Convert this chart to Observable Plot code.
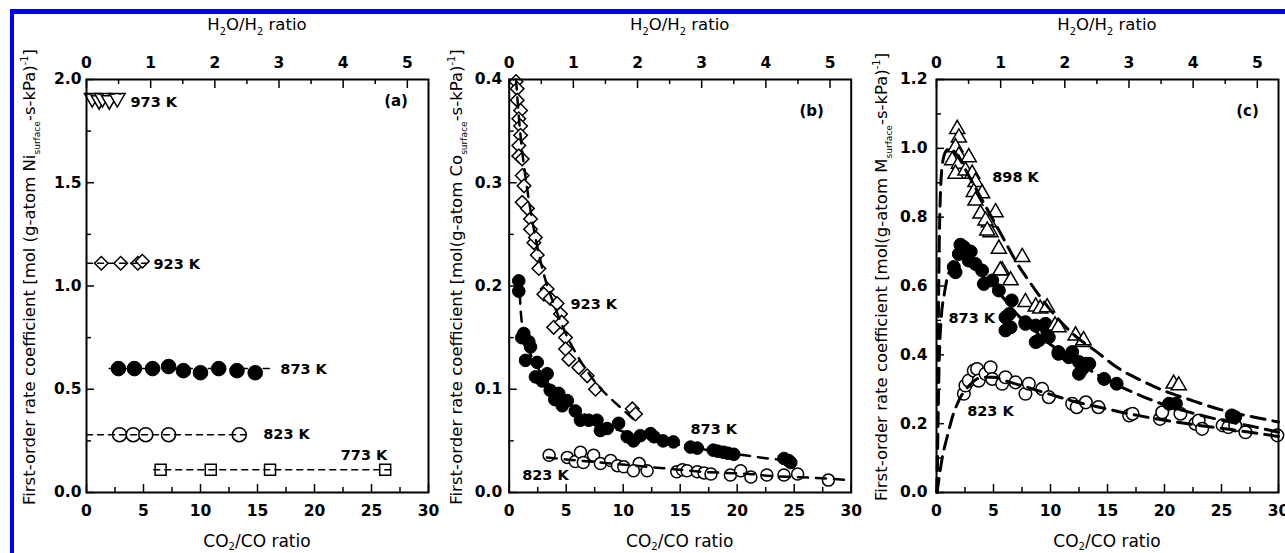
<!DOCTYPE html>
<html><head><meta charset="utf-8">
<script src="https://cdn.jsdelivr.net/npm/d3@7"></script>
<script src="https://cdn.jsdelivr.net/npm/@observablehq/plot@0.6"></script>
<style>
html,body{margin:0;padding:0;background:#fff}
body{width:1285px;height:553px;overflow:hidden;position:relative;font-family:"DejaVu Sans",sans-serif}
.panel{position:absolute;top:0}
#border{position:absolute;left:10px;top:9px;width:1400px;height:700px;border-left:4px solid #0000ff;border-top:5px solid #0000ff;pointer-events:none}
</style></head><body>
<div id="pa" class="panel" style="left:0px"></div>
<div id="pb" class="panel" style="left:430px"></div>
<div id="pc" class="panel" style="left:860px"></div>
<div id="border"></div>
<script>
// ---------- shared axis data ----------
const co2Major = [0, 5, 10, 15, 20, 25, 30];
const co2Minor = [2.5, 7.5, 12.5, 17.5, 22.5, 27.5];
const h2oMajor = [0, 1, 2, 3, 4, 5];
const h2oMinor = [0.5, 1.5, 2.5, 3.5, 4.5];
const h2oPerCo2 = 5.33 / 30; // top axis (H2O/H2) vs bottom axis (CO2/CO)

// ---------- panel (a) Ni ----------
const aYMajor = [0, 0.5, 1.0, 1.5, 2.0];
const aYMinor = [0.25, 0.75, 1.25, 1.75];
const a973x = [0.5, 1.1, 1.4, 2.0, 2.7];
const a973y = [1.91, 1.90, 1.91, 1.90, 1.91];
const a923x = [1.3, 3.0, 4.5, 4.9];
const a923y = [1.11, 1.11, 1.11, 1.12];
const a873x = [2.8, 4.2, 5.8, 7.2, 8.5, 10.0, 11.6, 13.2, 14.8];
const a873y = [0.60, 0.60, 0.60, 0.61, 0.59, 0.58, 0.60, 0.59, 0.58];
const a823x = [2.9, 4.1, 5.2, 7.2, 13.4];
const a823y = [0.28, 0.28, 0.28, 0.28, 0.28];
const a773x = [6.5, 10.9, 16.1, 26.2];
const a773y = [0.11, 0.11, 0.11, 0.11];
const a973FitX = [0, 3.0], a973FitY = [1.93, 1.93];
const a923FitX = [0, 5.5], a923FitY = [1.11, 1.11];
const a873FitX = [2.0, 16.3], a873FitY = [0.60, 0.60];
const a823FitX = [0, 14.2], a823FitY = [0.28, 0.28];
const a773FitX = [5.9, 26.7], a773FitY = [0.11, 0.11];
const aLabelText = ["973 K", "923 K", "873 K", "823 K", "773 K"];
const aLabelX = [3.86, 5.88, 17.0, 15.5, 22.3];
const aLabelY = [1.889, 1.104, 0.596, 0.281, 0.179];

// ---------- panel (b) Co ----------
const bYMajor = [0, 0.1, 0.2, 0.3, 0.4];
const bYMinor = [0.05, 0.15, 0.25, 0.35];
const b923x = [0.6, 0.70, 0.70, 1.0, 0.84, 1.0, 1.0, 0.84, 0.84, 1.14, 1.14, 1.3, 1.14, 1.6, 1.87, 1.87, 2.16, 2.3, 2.46, 2.6, 3.33, 3.04, 3.6, 4.2, 4.5, 3.9, 4.6, 4.94, 4.94, 5.23, 6.1, 6.84, 7.57, 10.8, 11.08];
const b923y = [0.398, 0.391, 0.380, 0.370, 0.362, 0.355, 0.346, 0.336, 0.326, 0.323, 0.307, 0.297, 0.281, 0.275, 0.265, 0.255, 0.242, 0.247, 0.230, 0.217, 0.197, 0.192, 0.188, 0.183, 0.173, 0.160, 0.165, 0.150, 0.139, 0.129, 0.121, 0.113, 0.100, 0.081, 0.076];
const b873x = [0.84, 0.84, 1.1, 1.28, 1.72, 1.87, 1.43, 2.46, 2.3, 2.9, 3.33, 3.6, 4.0, 4.35, 4.65, 5.1, 5.8, 6.25, 6.98, 7.7, 8.0, 8.6, 9.6, 10.35, 10.9, 11.5, 12.4, 12.7, 13.5, 14.4, 15.9, 16.5, 17.9, 18.3, 18.8, 19.2, 19.7, 24.1, 24.5, 24.7];
const b873y = [0.205, 0.195, 0.150, 0.154, 0.146, 0.141, 0.128, 0.126, 0.112, 0.108, 0.115, 0.099, 0.090, 0.096, 0.084, 0.089, 0.079, 0.070, 0.070, 0.070, 0.060, 0.062, 0.067, 0.054, 0.050, 0.055, 0.057, 0.054, 0.050, 0.049, 0.044, 0.043, 0.041, 0.040, 0.039, 0.038, 0.037, 0.033, 0.031, 0.029];
const b823x = [3.5, 5.1, 5.8, 6.25, 7.4, 6.5, 8.0, 8.9, 9.5, 10.05, 11.4, 10.9, 12.1, 14.7, 15.2, 15.6, 16.5, 17.1, 17.7, 19.4, 20.3, 21.2, 22.6, 24.1, 25.3, 28.0];
const b823y = [0.036, 0.034, 0.030, 0.039, 0.036, 0.029, 0.028, 0.031, 0.026, 0.025, 0.028, 0.021, 0.021, 0.020, 0.022, 0.021, 0.020, 0.019, 0.018, 0.017, 0.021, 0.015, 0.017, 0.017, 0.018, 0.012];
const b923FitX = [0.6, 0.8, 1.0, 1.5, 2, 3, 4, 5, 6, 7, 8, 9, 10, 11];
const b923FitY = [0.40, 0.37, 0.345, 0.30, 0.265, 0.213, 0.180, 0.153, 0.132, 0.115, 0.101, 0.090, 0.080, 0.070];
const b873FitX = [0.85, 1.0, 1.3, 1.7, 2.2, 3, 4, 5, 6, 7, 8, 10, 12, 14, 16, 18, 20, 22, 25];
const b873FitY = [0.21, 0.178, 0.152, 0.138, 0.127, 0.112, 0.098, 0.088, 0.080, 0.073, 0.067, 0.059, 0.053, 0.048, 0.044, 0.040, 0.037, 0.034, 0.030];
const b823FitX = [3.3, 5, 7, 9, 11, 13, 15, 17, 19, 21, 23, 25, 27, 30];
const b823FitY = [0.034, 0.032, 0.030, 0.028, 0.026, 0.024, 0.022, 0.020, 0.019, 0.018, 0.016, 0.015, 0.014, 0.012];
const bLabelText = ["923 K", "873 K", "823 K"];
const bLabelX = [5.38, 15.9, 1.14];
const bLabelY = [0.182, 0.061, 0.0165];

// ---------- panel (c) M ----------
const cYMajor = [0, 0.2, 0.4, 0.6, 0.8, 1.0, 1.2];
const cYMinor = [0.1, 0.3, 0.5, 0.7, 0.9, 1.1];
const c898x = [1.82, 1.96, 1.67, 1.96, 1.38, 2.83, 1.96, 1.67, 2.54, 3.13, 3.42, 3.27, 4.0, 3.42, 3.86, 5.18, 4.59, 4.74, 5.47, 7.52, 5.76, 4.3, 4.45, 5.6, 6.5, 7.8, 8.7, 9.1, 9.7, 10.4, 10.7, 12.2, 12.8, 12.9, 20.8, 21.25];
const c898y = [1.056, 1.031, 1.003, 0.979, 0.965, 0.974, 0.955, 0.926, 0.935, 0.926, 0.902, 0.873, 0.869, 0.848, 0.810, 0.814, 0.785, 0.756, 0.708, 0.684, 0.645, 0.790, 0.761, 0.645, 0.616, 0.553, 0.540, 0.534, 0.538, 0.485, 0.480, 0.456, 0.437, 0.442, 0.316, 0.311];
const c873x = [2.4, 1.96, 1.52, 1.67, 2.1, 3.0, 2.83, 3.42, 4.0, 4.15, 4.89, 5.47, 6.05, 6.5, 7.8, 8.7, 9.56, 9.85, 10.7, 11.9, 12.5, 13.4, 6.6, 6.4, 7.8, 6.05, 8.7, 8.97, 9.7, 10.7, 11.6, 12.8, 13.1, 12.5, 14.7, 15.8, 20.4, 21.0, 25.9, 26.2];
const c873y = [0.713, 0.693, 0.655, 0.640, 0.72, 0.70, 0.674, 0.664, 0.645, 0.606, 0.616, 0.587, 0.509, 0.480, 0.490, 0.437, 0.490, 0.451, 0.408, 0.408, 0.379, 0.374, 0.558, 0.519, 0.495, 0.471, 0.485, 0.442, 0.471, 0.403, 0.393, 0.359, 0.374, 0.345, 0.330, 0.316, 0.258, 0.258, 0.224, 0.219];
const c823x = [2.4, 2.54, 2.83, 3.27, 3.56, 3.7, 4.3, 4.74, 4.89, 5.76, 6.05, 6.93, 7.8, 8.1, 9.27, 9.85, 11.9, 12.3, 13.1, 14.2, 16.9, 17.2, 19.6, 19.8, 21.4, 22.7, 23.0, 23.3, 25.1, 25.6, 26.2, 27.1, 29.9];
const c823y = [0.287, 0.311, 0.325, 0.354, 0.359, 0.325, 0.345, 0.364, 0.330, 0.316, 0.335, 0.320, 0.287, 0.316, 0.301, 0.277, 0.258, 0.248, 0.262, 0.248, 0.224, 0.229, 0.214, 0.233, 0.229, 0.200, 0.209, 0.185, 0.195, 0.190, 0.195, 0.175, 0.166];
const c898FitX = [0.05, 0.15, 0.3, 0.5, 0.8, 1.2, 1.8, 3, 4, 5, 6, 7, 8, 10, 12, 14, 16, 18, 20, 22, 25, 28, 30];
const c898FitY = [0, 0.45, 0.82, 0.95, 0.99, 1.0, 0.98, 0.91, 0.85, 0.79, 0.73, 0.67, 0.62, 0.53, 0.46, 0.41, 0.36, 0.325, 0.295, 0.272, 0.24, 0.218, 0.205];
const c873FitX = [0.05, 0.2, 0.4, 0.7, 1.0, 1.5, 2.2, 3, 4, 5, 6, 7, 8, 10, 12, 14, 16, 18, 20, 22, 25, 28, 30];
const c873FitY = [0, 0.33, 0.50, 0.58, 0.63, 0.66, 0.67, 0.66, 0.63, 0.60, 0.56, 0.52, 0.49, 0.43, 0.385, 0.345, 0.31, 0.28, 0.255, 0.235, 0.21, 0.19, 0.175];
const c823FitX = [0.05, 0.5, 1.0, 1.4, 2, 3, 4, 5, 6, 7, 8, 10, 12, 14, 17, 20, 23, 26, 30];
const c823FitY = [0, 0.10, 0.17, 0.22, 0.27, 0.315, 0.335, 0.335, 0.325, 0.315, 0.305, 0.285, 0.265, 0.25, 0.228, 0.21, 0.195, 0.182, 0.163];
const cLabelText = ["898 K", "873 K", "823 K"];
const cLabelX = [4.89, 1.05, 2.69];
const cLabelY = [0.915, 0.506, 0.235];

// ---------- drawing ----------
const H = 553, MT = 79, MB = 61;
const FONT = "DejaVu Sans, sans-serif";

function richText(svg, {x, y, rotate = 0, size, weight = "normal", parts}) {
  const t = d3.select(svg).append("text")
    .attr("transform", `translate(${x},${y}) rotate(${rotate})`)
    .attr("text-anchor", "middle")
    .attr("font-family", FONT)
    .attr("font-size", size)
    .attr("font-weight", weight)
    .attr("fill", "black");
  let shift = 0;
  for (const p of parts) {
    const target = p.sub ? size * (p.shift || 0.3) : p.sup ? -size * 0.4 : 0;
    const s = t.append("tspan").text(p.t).attr("dy", target - shift);
    if (p.sub || p.sup) s.attr("font-size", size * (p.small || 0.6));
    shift = target;
  }
}

function panel(el, cfg) {
  const {width, marginLeft, marginRight, yDomain, yMajor, yMinor, yPad, marks, letter, yLabelParts, yLabelX} = cfg;
  const pw = width - marginLeft - marginRight;
  const ph = H - MT - MB;
  const txt = {fontSize: 15.5, fontWeight: "bold", fontFamily: FONT};
  const svg = Plot.plot({
    width, height: H, marginTop: MT, marginBottom: MB, marginLeft, marginRight,
    style: {background: "transparent", fontFamily: FONT, color: "black", overflow: "visible"},
    x: {domain: [0, 30]},
    y: {domain: yDomain},
    marks: [
      ...marks,
      Plot.tickY(yMajor, {y: d => d, insetRight: pw - 8, strokeWidth: 1.5}),
      Plot.tickY(yMinor, {y: d => d, insetRight: pw - 5, strokeWidth: 1.5}),
      Plot.tickX(co2Major, {x: d => d, insetTop: ph - 8, strokeWidth: 1.5}),
      Plot.tickX(co2Minor, {x: d => d, insetTop: ph - 5, strokeWidth: 1.5}),
      Plot.tickX(h2oMajor.map(h => h / h2oPerCo2), {x: d => d, insetBottom: ph - 9, strokeWidth: 1.5}),
      Plot.tickX(h2oMinor.map(h => h / h2oPerCo2), {x: d => d, insetBottom: ph - 5, strokeWidth: 1.5}),
      Plot.frame({strokeWidth: 2}),
      Plot.axisX({anchor: "bottom", ticks: co2Major, tickSize: 0, tickPadding: 12, label: null, ...txt}),
      Plot.axisX({anchor: "top", ticks: h2oMajor.map(h => h / h2oPerCo2), tickFormat: v => String(Math.round(v * h2oPerCo2)), tickSize: 0, tickPadding: 12, label: null, ...txt}),
      Plot.axisY({anchor: "left", ticks: yMajor, tickFormat: d3.format(".1f"), tickSize: 0, tickPadding: yPad, label: null, ...txt}),
      Plot.text([letter], {x: [cfg.letterX], y: [cfg.letterY], text: d => d, textAnchor: "end", lineAnchor: "middle", fontSize: 15, fontWeight: "bold", fontFamily: FONT})
    ]
  });
  const cx = marginLeft + pw / 2;
  richText(svg, {x: cx, y: 30, size: 16.5, parts: [{t: "H"}, {t: "2", sub: true}, {t: "O/H"}, {t: "2", sub: true}, {t: " ratio"}]});
  richText(svg, {x: cx, y: 547, size: 17, parts: [{t: "CO"}, {t: "2", sub: true, shift: 0.2}, {t: "/CO ratio"}]});
  richText(svg, {x: yLabelX, y: 277, rotate: -90, size: 16.5, parts: yLabelParts});
  document.getElementById(el).appendChild(svg);
}

function xy(xs, ys) { return xs.map((x, i) => ({x, y: ys[i]})); }
const open = {fill: "white", stroke: "black", strokeWidth: 1.5};
const filled = {fill: "black", stroke: "black", strokeWidth: 1};
function fit(xs, ys, dash, w) {
  return Plot.line(xy(xs, ys), {x: "x", y: "y", stroke: "black", strokeWidth: w, strokeDasharray: dash, curve: "monotone-x"});
}
function labels(t, xs, ys) {
  return Plot.text(t, {x: xs, y: ys, text: t, textAnchor: "start", lineAnchor: "middle", fontSize: 14.5, fontWeight: "bold", fontFamily: FONT});
}
function yLab(metal, space) {
  return [{t: "First-order rate coefficient [mol" + (space ? " " : "") + "(g-atom " + metal}, {t: "surface", sub: true, small: 0.55}, {t: "-s-kPa)"}, {t: "-1", sup: true}, {t: "]"}];
}

panel("pa", {
  width: 430, marginLeft: 86, marginRight: 2, yDomain: [0, 2], yMajor: aYMajor, yMinor: aYMinor, yPad: 5,
  letter: "(a)", letterX: 28.2, letterY: 1.894, yLabelParts: yLab("Ni", true), yLabelX: 35,
  marks: [
    Plot.dot(xy(a973x, a973y), {x: "x", y: "y", symbol: "triangle", rotate: 180, r: 5.8, ...open}),
    Plot.dot(xy(a923x, a923y), {x: "x", y: "y", symbol: "square", rotate: 45, r: 5.4, ...open}),
    Plot.dot(xy(a873x, a873y), {x: "x", y: "y", r: 7.3, ...filled}),
    Plot.dot(xy(a823x, a823y), {x: "x", y: "y", r: 7, ...open}),
    Plot.dot(xy(a773x, a773y), {x: "x", y: "y", symbol: "square", r: 6.2, ...open}),
    fit(a973FitX, a973FitY, "6,5", 1.5),
    fit(a923FitX, a923FitY, "6,5", 1.5),
    fit(a873FitX, a873FitY, "6,5", 1.5),
    fit(a823FitX, a823FitY, "6,5", 1.5),
    fit(a773FitX, a773FitY, "6,5", 1.5),
    labels(aLabelText, aLabelX, aLabelY)
  ]
});

panel("pb", {
  width: 430, marginLeft: 78.7, marginRight: 9.3, yDomain: [0, 0.4], yMajor: bYMajor, yMinor: bYMinor, yPad: 7,
  letter: "(b)", letterX: 27.6, letterY: 0.369, yLabelParts: yLab("Co", false), yLabelX: 32,
  marks: [
    Plot.dot(xy(b823x, b823y), {x: "x", y: "y", r: 6, ...open}),
    Plot.dot(xy(b873x, b873y), {x: "x", y: "y", r: 6.3, ...filled}),
    Plot.dot(xy(b923x, b923y), {x: "x", y: "y", symbol: "square", rotate: 45, r: 5.4, ...open}),
    fit(b923FitX, b923FitY, "10,8", 2.5),
    fit(b873FitX, b873FitY, "10,8", 2.5),
    fit(b823FitX, b823FitY, "10,8", 2.5),
    labels(bLabelText, bLabelX, bLabelY)
  ]
});

panel("pc", {
  width: 425, marginLeft: 76, marginRight: 7, yDomain: [0, 1.2], yMajor: cYMajor, yMinor: cYMinor, yPad: 9,
  letter: "(c)", letterX: 28.27, letterY: 1.107, yLabelParts: yLab("M", false), yLabelX: 27,
  marks: [
    Plot.dot(xy(c823x, c823y), {x: "x", y: "y", r: 6.3, ...open}),
    Plot.dot(xy(c873x, c873y), {x: "x", y: "y", r: 6.5, ...filled}),
    Plot.dot(xy(c898x, c898y), {x: "x", y: "y", symbol: "triangle", r: 5.6, ...open}),
    fit(c898FitX, c898FitY, "14,8", 3),
    fit(c873FitX, c873FitY, "14,8", 3),
    fit(c823FitX, c823FitY, "14,8", 3),
    labels(cLabelText, cLabelX, cLabelY)
  ]
});
</script>
</body></html>
